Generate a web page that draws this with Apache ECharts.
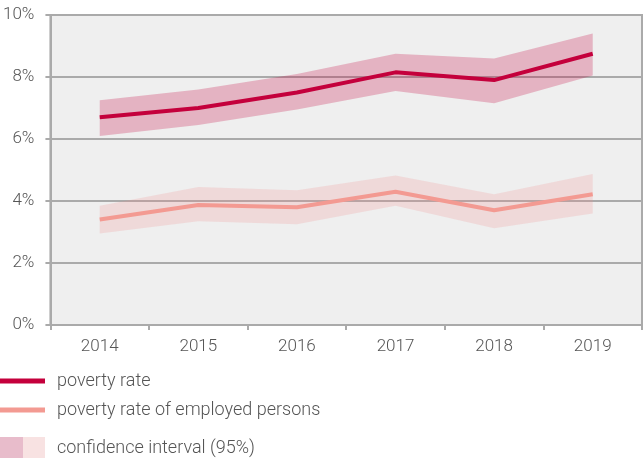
<!DOCTYPE html>
<html>
<head>
<meta charset="utf-8">
<script src="https://cdn.jsdelivr.net/npm/echarts@6/dist/echarts.min.js"></script>
<style>
  html, body { margin: 0; padding: 0; background: #fff; }
  #content { width: 644px; height: 458px; }
</style>
</head>
<body>
<div id="content"></div>
<script>
// 数据
var years = ["2014", "2015", "2016", "2017", "2018", "2019"];
var povertyRate = [6.7, 7.0, 7.5, 8.15, 7.9, 8.75];
var povertyLow = [6.1, 6.45, 6.95, 7.55, 7.15, 8.05];
var povertyHigh = [7.25, 7.6, 8.1, 8.75, 8.6, 9.4];
var employedRate = [3.4, 3.87, 3.8, 4.3, 3.7, 4.22];
var employedLow = [2.95, 3.35, 3.25, 3.85, 3.12, 3.6];
var employedHigh = [3.85, 4.45, 4.35, 4.82, 4.22, 4.87];

var textColor = "#555";
var font = "Roboto";
var fSize = 17;
var legendSize = 18;
var fWeight = 300;

// 区间宽度 = 上限 - 下限
function spread(hi, lo) {
    var r = [];
    for (var i = 0; i < hi.length; i++) {
        r.push(+(hi[i] - lo[i]).toFixed(3));
    }
    return r;
}

var myChart = echarts.init(document.getElementById("content"));

myChart.setOption({
    animation: false,
    grid: {
        left: 48,
        right: 2,
        top: 15,
        bottom: 133,
        show: true,
        backgroundColor: "#efefef",
        borderColor: "#aaa",
        borderWidth: 2
    },
    legend: {
        data: ["poverty rate", "poverty rate of employed persons"],
        orient: "vertical",
        left: 0,
        top: 372,
        padding: 0,
        icon: "rect",
        itemWidth: 45,
        itemHeight: 5,
        itemGap: 11,
        selectedMode: false,
        textStyle: {
            color: textColor,
            fontSize: legendSize,
            fontWeight: fWeight,
            fontFamily: font,
            padding: [0, 0, 0, 7]
        }
    },
    graphic: [{
        type: "group",
        left: 0,
        top: 437,
        children: [
            { type: "rect", shape: { x: 0, y: 0, width: 23, height: 22 }, style: { fill: "#e8bccb" } },
            { type: "rect", shape: { x: 23, y: 0, width: 22, height: 22 }, style: { fill: "#f8e2e2" } },
            {
                type: "text",
                x: 57,
                y: 11,
                style: {
                    text: "confidence interval (95%)",
                    fill: textColor,
                    fontSize: legendSize,
                    fontWeight: fWeight,
                    fontFamily: font,
                    verticalAlign: "middle"
                }
            }
        ]
    }],
    xAxis: {
        type: "category",
        data: years,
        boundaryGap: true,
        axisLine: { lineStyle: { color: "#aaa", width: 2 } },
        axisTick: { show: true, length: 5, lineStyle: { color: "#aaa", width: 2 } },
        axisLabel: { color: textColor, fontSize: fSize, fontWeight: fWeight, fontFamily: font, margin: 13 }
    },
    yAxis: {
        type: "value",
        min: 0,
        max: 10,
        interval: 2,
        axisLine: { show: true, lineStyle: { color: "#aaa", width: 2 } },
        axisTick: { show: true, length: 5, lineStyle: { color: "#aaa", width: 2 } },
        axisLabel: { formatter: "{value}%", color: textColor, fontSize: fSize, fontWeight: fWeight, fontFamily: font, margin: 16 },
        splitLine: { show: true, lineStyle: { color: "#aaa", width: 2 } }
    },
    series: [
        {
            name: "povLow",
            type: "line",
            stack: "pov",
            data: povertyLow,
            symbol: "none",
            lineStyle: { opacity: 0 },
            silent: true
        },
        {
            name: "povBand",
            type: "line",
            stack: "pov",
            data: spread(povertyHigh, povertyLow),
            symbol: "none",
            lineStyle: { opacity: 0 },
            areaStyle: { color: "rgba(196,0,60,0.25)", opacity: 1 },
            silent: true
        },
        {
            name: "empLow",
            type: "line",
            stack: "emp",
            data: employedLow,
            symbol: "none",
            lineStyle: { opacity: 0 },
            silent: true
        },
        {
            name: "empBand",
            type: "line",
            stack: "emp",
            data: spread(employedHigh, employedLow),
            symbol: "none",
            lineStyle: { opacity: 0 },
            areaStyle: { color: "rgba(240,140,140,0.22)", opacity: 1 },
            silent: true
        },
        {
            name: "poverty rate",
            type: "line",
            data: povertyRate,
            symbol: "none",
            color: "#c4003c",
            lineStyle: { color: "#c4003c", width: 4 },
            z: 5
        },
        {
            name: "poverty rate of employed persons",
            type: "line",
            data: employedRate,
            symbol: "none",
            color: "#f39a92",
            lineStyle: { color: "#f39a92", width: 4 },
            z: 5
        }
    ]
});
</script>
</body>
</html>
